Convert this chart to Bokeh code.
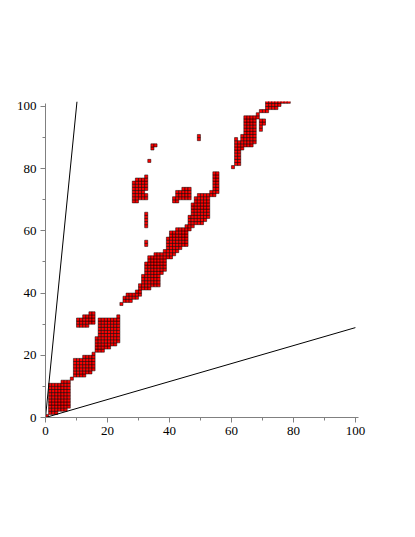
from bokeh.plotting import figure
from bokeh.models import Range1d, FixedTicker, ColumnDataSource
from bokeh.embed import file_html
from bokeh.resources import INLINE

# Cells of the pattern, given as vertical runs: column index, first row, last row
run_col = [0, 1, 2, 3, 4, 5, 6, 7, 8,
           9, 10, 11, 12, 13, 14, 15,
           10, 11, 12, 13, 14, 15,
           16, 17, 18, 19, 20, 21, 22, 23,
           24, 25, 26, 27, 28, 29, 30,
           31, 32, 33, 34, 35, 36, 37, 38,
           32, 32,
           28, 29, 30, 31, 32, 32,
           33, 34, 35, 49,
           41, 42, 43, 44, 45, 46,
           39, 40, 41, 42, 43, 44, 45, 46, 47, 48, 49, 50, 51, 52,
           53, 54, 55,
           60, 61, 62, 63, 64, 65, 66, 67, 68, 69, 70, 69, 70,
           71, 72, 73, 74, 75, 76, 77, 78]
run_lo = [0, 1, 1, 1, 2, 2, 2, 3, 12,
          13, 13, 13, 13, 14, 14, 15,
          29, 29, 29, 29, 30, 30,
          21, 21, 21, 22, 22, 23, 23, 24,
          36, 37, 37, 37, 38, 38, 39,
          41, 41, 41, 42, 42, 42, 46, 47,
          55, 61,
          69, 69, 70, 70, 70, 73,
          82, 86, 87, 89,
          69, 69, 70, 70, 70, 70,
          51, 51, 52, 53, 54, 55, 55, 60, 61, 62, 62, 62, 63, 64,
          71, 71, 72,
          80, 81, 81, 86, 87, 87, 87, 88, 96, 92, 94, 98, 98,
          98, 99, 99, 99, 100, 101, 101, 101]
run_hi = [0, 10, 10, 10, 10, 11, 11, 11, 12,
          18, 18, 18, 19, 19, 19, 20,
          31, 31, 32, 32, 33, 33,
          25, 31, 31, 31, 31, 31, 31, 32,
          36, 38, 39, 39, 39, 40, 42,
          45, 49, 51, 51, 52, 52, 52, 53,
          56, 65,
          75, 76, 76, 76, 71, 77,
          82, 87, 87, 90,
          70, 72, 72, 73, 73, 73,
          57, 59, 59, 60, 60, 60, 61, 64, 68, 70, 71, 71, 71, 71,
          72, 78, 78,
          80, 89, 88, 90, 96, 96, 96, 96, 97, 95, 95, 98, 98,
          101, 101, 101, 101, 101, 101, 101, 101]

# Two lines through the origin
steep_x = [0, 10.16]
steep_y = [0, 101.6]
shallow_x = [0, 100]
shallow_y = [0, 28.9]

major_ticks = [0, 20, 40, 60, 80, 100]
minor_ticks = [10, 30, 50, 70, 90]

left, right, bottom, top = [], [], [], []
for c, lo, hi in zip(run_col, run_lo, run_hi):
    for r in range(lo, hi + 1):
        left.append(c)
        right.append(c + 1)
        bottom.append(r)
        top.append(r + 1)
src = ColumnDataSource(dict(left=left, right=right, bottom=bottom, top=top))

p = figure(frame_width=313, frame_height=316,
           min_border_left=45, min_border_top=101,
           min_border_right=40, min_border_bottom=100,
           x_range=Range1d(0, 101), y_range=Range1d(0, 101.6),
           output_backend="svg", toolbar_location=None)
p.outline_line_color = None
p.grid.visible = False
p.background_fill_color = "white"
p.border_fill_color = "white"

p.quad(left="left", right="right", bottom="bottom", top="top", source=src,
       fill_color="#ff0000", line_color="black", line_width=0.5)

p.line(steep_x, steep_y, line_color="black", line_width=1)
p.line(shallow_x, shallow_y, line_color="black", line_width=1)

for ax, b in ((p.xaxis[0], (0, 101)), (p.yaxis[0], (0, 100.8))):
    ax.ticker = FixedTicker(ticks=major_ticks, minor_ticks=minor_ticks)
    ax.bounds = b
    ax.axis_line_color = "#808080"
    ax.axis_line_width = 1
    ax.major_tick_line_color = "#808080"
    ax.minor_tick_line_color = "#808080"
    ax.major_tick_in = 0
    ax.minor_tick_in = 0
    ax.major_tick_out = 5
    ax.minor_tick_out = 3
    ax.major_label_text_font = "Liberation Serif"
    ax.major_label_text_font_size = "13px"
    ax.major_label_text_color = "black"
    ax.major_label_standoff = 4

open("out.html", "w").write(file_html(p, INLINE))
